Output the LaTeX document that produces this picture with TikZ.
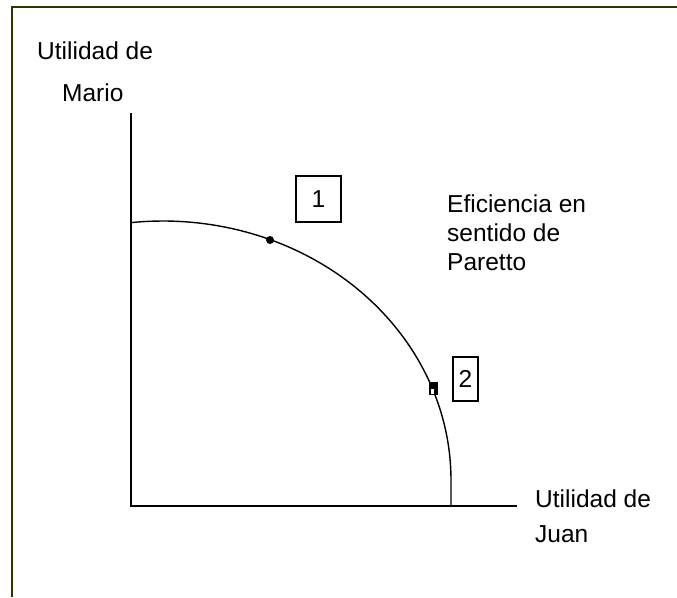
\documentclass[tikz,border=0pt]{standalone}
\usepackage{fontspec}
\setmainfont{Liberation Sans}
\usepackage{tikz}
\usetikzlibrary{positioning}

\definecolor{frameolive}{HTML}{333300}

\begin{document}
\begin{tikzpicture}[x=1pt, y=-1pt,
    lbl/.style={anchor=base west, inner sep=0pt, font=\fontsize{24.5}{28}\selectfont},
    numbox/.style={draw, line width=1.4pt, inner sep=0pt, font=\fontsize{24.5}{28}\selectfont}]
    \useasboundingbox (0,0) rectangle (677,597);

    % Frame
    \draw[frameolive, line width=2pt] (12,597) -- (12,7) -- (677,7);

    % Axes
    \coordinate (origin) at (131,506);
    \coordinate (ytop) at (131,113);
    \coordinate (xend) at (517,506);
    \draw[line width=1.8pt] (ytop) -- (origin) -- (xend);

    % Frontier
    \coordinate (fend) at (451,506);
    \draw[line width=1.4pt] plot[domain=96.4:0, samples=80]
        ({163+288*cos(\x)}, {480-259*sin(\x)}) -- (fend);

    % Points
    \fill (270,240) circle (4);
    \fill (429,382) rectangle (438,395);
    \fill[white] (430.5,389) rectangle (433.5,393.5);

    % Boxes
    \node[numbox, minimum width=45pt, minimum height=46pt] (box1) at (318.5,199) {1};
    \node[numbox, minimum width=25pt, minimum height=44pt] (box2) at (465.5,379) {2};

    % Axis labels
    \node[lbl] (ylab1) at (37,59) {Utilidad de};
    \node[lbl] (ylab2) at (62,101) {Mario};
    \node[lbl] (xlab1) at (535,507) {Utilidad de};
    \node[lbl] (xlab2) at (535,542) {Juan};

    % Note
    \node[lbl] (note1) at (447,212) {Eficiencia en};
    \node[lbl] (note2) at (447,241) {sentido de};
    \node[lbl] (note3) at (447,270) {Paretto};
\end{tikzpicture}
\end{document}
